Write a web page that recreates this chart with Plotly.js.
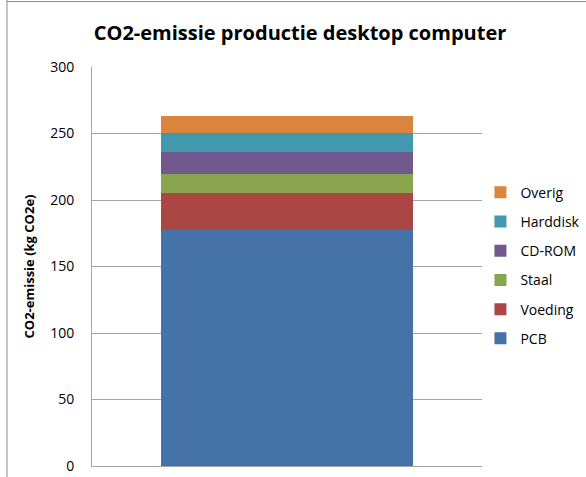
<!DOCTYPE html>
<html>
<head>
<meta charset="utf-8">
<script src="https://cdn.plot.ly/plotly-3.0.1.min.js"></script>
<style>html,body{margin:0;padding:0;background:#fff;} #chart{width:586px;height:477px;}</style>
</head>
<body>
<div id="chart"></div>
<script>
const categories = ["Desktop computer"];
const seriesNames = ["PCB", "Voeding", "Staal", "CD-ROM", "Harddisk", "Overig"];
const pcb = [177.5];
const voeding = [28];
const staal = [14];
const cdrom = [16.5];
const harddisk = [14.5];
const overig = [12.5];
const seriesColors = ["#4572A7", "#AA4643", "#89A54E", "#71588F", "#4198AF", "#DB843D"];
const yTickVals = [0, 50, 100, 150, 200, 250, 300];

const seriesValues = [pcb, voeding, staal, cdrom, harddisk, overig];
const traces = seriesNames.map((name, i) => ({
  type: "bar",
  name: name,
  x: categories,
  y: seriesValues[i],
  marker: {color: seriesColors[i], line: {width: 0}},
  legendgroup: "g" + i,
  legendrank: 1000 - i,
  hoverinfo: "name+y"
}));

const layout = {
  width: 586,
  height: 477,
  barmode: "stack",
  bargap: 0.354,
  paper_bgcolor: "#ffffff",
  plot_bgcolor: "#ffffff",
  margin: {l: 92, r: 104, t: 67, b: 11, autoexpand: false},
  font: {family: "Open Sans, Liberation Sans, sans-serif", color: "#000000"},
  title: {
    text: "<b>CO2-emissie productie desktop computer</b>",
    font: {size: 20, family: "Open Sans, Liberation Sans, sans-serif", color: "#000"},
    x: 0.512, xanchor: "center", y: 0.93, yanchor: "middle"
  },
  xaxis: {
    showticklabels: false,
    ticks: "",
    showgrid: false,
    zeroline: false,
    showline: true,
    linecolor: "#a6a6a6",
    linewidth: 1,
    mirror: false
  },
  yaxis: {
    range: [0, 300],
    tickvals: yTickVals,
    ticktext: yTickVals.map(String),
    showgrid: true,
    gridcolor: "#a6a6a6",
    gridwidth: 1,
    zeroline: false,
    showline: true,
    linecolor: "#a6a6a6",
    ticks: "",
    ticklabelstandoff: 14,
    tickfont: {size: 14, color: "#000"},
    title: {
      text: "<b>CO2-emissie (kg CO2e)</b>",
      font: {size: 13, color: "#000"},
      standoff: 12
    }
  },
  legend: {
    x: 0.996, xanchor: "left",
    y: 0.725, yanchor: "top",
    traceorder: "grouped",
    tracegroupgap: 8,
    font: {size: 14, color: "#000"},
    itemwidth: 30,
    bgcolor: "rgba(0,0,0,0)"
  },
  shapes: [
    {type: "line", xref: "paper", yref: "paper", x0: -0.218, x1: -0.218, y0: -0.05, y1: 1.2, line: {color: "#8c8c8c", width: 1}},
    {type: "line", xref: "paper", yref: "paper", x0: -0.218, x1: 1.3, y0: 1.164, y1: 1.164, line: {color: "#8c8c8c", width: 1}}
  ]
};

Plotly.newPlot("chart", traces, layout, {displayModeBar: false, staticPlot: true});
</script>
</body>
</html>
